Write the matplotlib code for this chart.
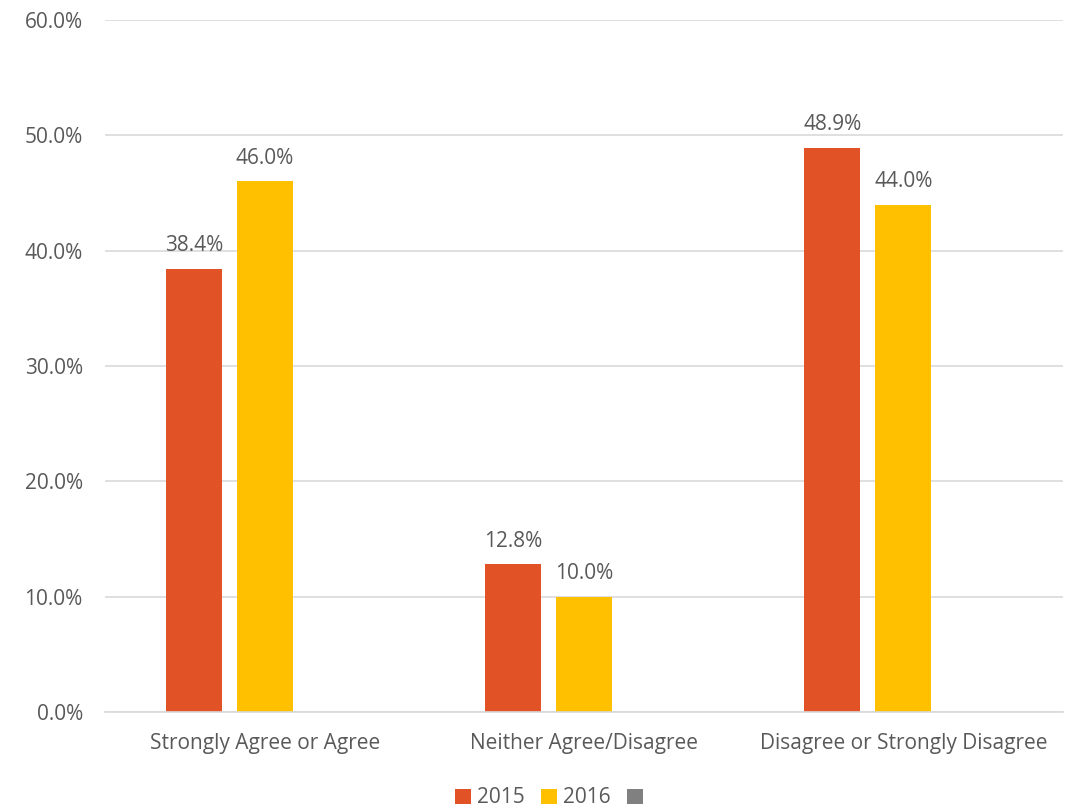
import matplotlib.pyplot as plt
import numpy as np

plt.rcParams['font.family'] = ['Open Sans', 'DejaVu Sans']

categories = ["Strongly Agree or Agree", "Neither Agree/Disagree", "Disagree or Strongly Disagree"]
series_names = ["2015", "2016", " "]
vals_2015 = [38.4, 12.8, 48.9]
vals_2016 = [46.0, 10.0, 44.0]
vals_blank = [np.nan, np.nan, np.nan]
colors = ["#E15326", "#FFC000", "#808080"]

fig = plt.figure(figsize=(10.71, 8.07), dpi=100)
ax = fig.add_axes([105 / 1071, 1 - 712 / 807, 958 / 1071, 692 / 807])

x = np.arange(len(categories))
width = 0.175
step = 0.222
text_col = "#595959"
fs = 15

for i, (vals, name, col) in enumerate(zip([vals_2015, vals_2016, vals_blank], series_names, colors)):
    pos = x + (i - 1) * step
    ax.bar(pos, vals, width, color=col, label=name)
    for p, v in zip(pos, vals):
        if not np.isnan(v):
            ax.text(p, v + 1.1, f"{v:.1f}%", ha="center", va="bottom",
                    fontsize=fs, color=text_col)

ax.set_xlim(-0.5, 2.5)
ax.set_ylim(0, 60)
ax.set_yticks(np.arange(0, 61, 10))
ax.set_yticklabels([f"{t:.1f}%" for t in np.arange(0, 61, 10)])
ax.set_xticks(x)
ax.set_xticklabels(categories)
ax.tick_params(axis="both", length=0, labelsize=fs, labelcolor=text_col)
ax.tick_params(axis="y", pad=16)
ax.tick_params(axis="x", pad=15)
ax.yaxis.grid(True, color="#D9D9D9", linewidth=1.2)
ax.set_axisbelow(True)
for s in ["top", "right", "left"]:
    ax.spines[s].set_visible(False)
ax.spines["bottom"].set_color("#D9D9D9")
ax.spines["bottom"].set_linewidth(1.2)

fig.legend(loc="lower center", bbox_to_anchor=(0.518, -0.025), ncol=3, frameon=False,
           fontsize=fs, labelcolor=text_col, handlelength=0.75, handleheight=0.75,
           handletextpad=0.3, columnspacing=0.8)

fig.savefig("out.png", dpi=100)
